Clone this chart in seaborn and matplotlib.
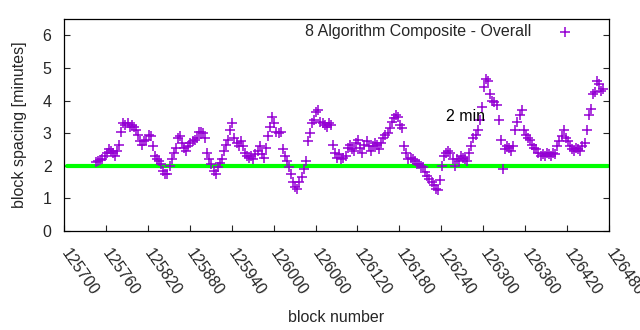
import numpy as np
import pandas as pd
import matplotlib
matplotlib.use("Agg")
import matplotlib.pyplot as plt
import seaborn as sns

# Block spacing (minutes), one value every third block starting at 125746
first_block = 125746
block_step = 3
spacing = [
    2.12, 2.15, 2.18, 2.2, 2.3, 2.4, 2.5, 2.45, 2.4, 2.3,
    2.45, 2.65, 3.05, 3.3, 3.25, 3.3, 3.2, 3.25, 3.2, 3.1,
    2.95, 2.75, 2.65, 2.75, 2.8, 2.95, 2.9, 2.6, 2.3, 2.2,
    2.15, 2.05, 1.85, 1.75, 1.75, 2.0, 2.2, 2.4, 2.55, 2.85,
    2.9, 2.7, 2.55, 2.45, 2.6, 2.7, 2.75, 2.8, 2.85, 3.05,
    3.05, 3.0, 2.85, 2.4, 2.2, 2.05, 1.85, 1.75, 1.95, 2.1,
    2.2, 2.45, 2.65, 2.8, 3.1, 3.3, 2.85, 2.7, 2.6, 2.75,
    2.6, 2.4, 2.3, 2.25, 2.3, 2.2, 2.35, 2.45, 2.6, 2.35,
    2.25, 2.55, 2.9, 3.2, 3.5, 3.3, 3.05, 3.0, 3.05, 2.5,
    2.3, 2.15, 1.95, 1.75, 1.5, 1.35, 1.3, 1.5, 1.65, 1.9,
    2.15, 2.75, 3.0, 3.3, 3.4, 3.65, 3.7, 3.35, 3.3, 3.25,
    3.2, 3.3, 3.25, 2.65, 2.4, 2.25, 2.35, 2.2, 2.25, 2.3,
    2.55, 2.65, 2.5, 2.45, 2.7, 2.8, 2.55, 2.4, 2.65, 2.75,
    2.6, 2.45, 2.6, 2.7, 2.65, 2.5, 2.7, 2.85, 2.95, 3.0,
    3.15, 3.35, 3.45, 3.55, 3.5, 3.25, 3.15, 2.6, 2.4, 2.2,
    2.25, 2.2, 2.15, 2.05, 2.05, 2.0, 1.95, 1.8, 1.7, 1.6,
    1.5, 1.4, 1.3, 1.25, 1.55, 2.0, 2.3, 2.4, 2.45, 2.4,
    2.2, 2.0, 2.2, 2.15, 2.3, 2.25, 2.2, 2.15, 2.4, 2.6,
    2.85, 2.95, 3.1, 3.4, 3.8, 4.4, 4.65, 4.6, 4.2, 4.0,
    3.95, 3.85, 3.4, 2.8, 1.9, 2.5, 2.6, 2.55, 2.45, 2.6,
    3.1, 3.35, 3.55, 3.7, 3.1, 2.95, 2.85, 2.8, 2.65, 2.55,
    2.5, 2.4, 2.3, 2.35, 2.3, 2.4, 2.35, 2.3, 2.4, 2.35,
    2.6, 2.75, 2.9, 3.1, 2.85, 2.75, 2.6, 2.5, 2.45, 2.55,
    2.5, 2.45, 2.6, 2.7, 3.1, 3.55, 3.75, 4.2, 4.25, 4.6,
    4.5, 4.3, 4.35,
]
blocks = first_block + block_step * np.arange(len(spacing))

target_minutes = 2
series_label = "8 Algorithm Composite - Overall"
target_label = "2 min"
x_ticks = list(range(125700, 126481, 60))
y_ticks = [0, 1, 2, 3, 4, 5, 6]

df = pd.DataFrame({"block": blocks, "spacing": spacing})

sns.set_style("white")
plt.rcParams["font.family"] = ["Liberation Sans", "DejaVu Sans"]
fs = 11.5
plt.rcParams["font.size"] = fs

fig = plt.figure(figsize=(6.4, 3.3), dpi=100)
ax = fig.add_axes([0.1, 0.30, 0.8516, 0.6424])

ax.axhline(target_minutes, xmin=0.005, xmax=0.998, color="#00ff00", lw=3.0, zorder=1)

sns.scatterplot(data=df, x="block", y="spacing", marker="+", color="#9400d3",
                s=45, linewidth=1.1, ax=ax, label=series_label, zorder=2)

ax.text(126246, 3.5, target_label, fontsize=fs, ha="left", va="center", color="black")

ax.set_xlim(125700, 126480)
ax.set_ylim(0, 6.5)
ax.set_xticks(x_ticks)
ax.set_yticks(y_ticks)
ax.set_xticklabels([str(t) for t in x_ticks], rotation=-55, ha="left", va="center",
                   rotation_mode="anchor")
ax.tick_params(axis="x", direction="in", length=4, width=0.8, pad=14,
               bottom=True, top=False, labelsize=fs)
ax.tick_params(axis="y", direction="in", length=4, width=0.8, pad=9,
               left=True, right=True, labelsize=fs)
for sp in ax.spines.values():
    sp.set_color("black")
    sp.set_linewidth(0.9)

ax.set_xlabel("block number", fontsize=fs, labelpad=8)
ax.set_ylabel("block spacing [minutes]", fontsize=fs, labelpad=11)

leg = ax.legend(loc="upper right", bbox_to_anchor=(0.9486, 0.975), frameon=False,
                markerfirst=False, borderpad=0, borderaxespad=0,
                handlelength=2, handletextpad=1.1, fontsize=fs)

fig.savefig("out.png", dpi=100, facecolor="white")
